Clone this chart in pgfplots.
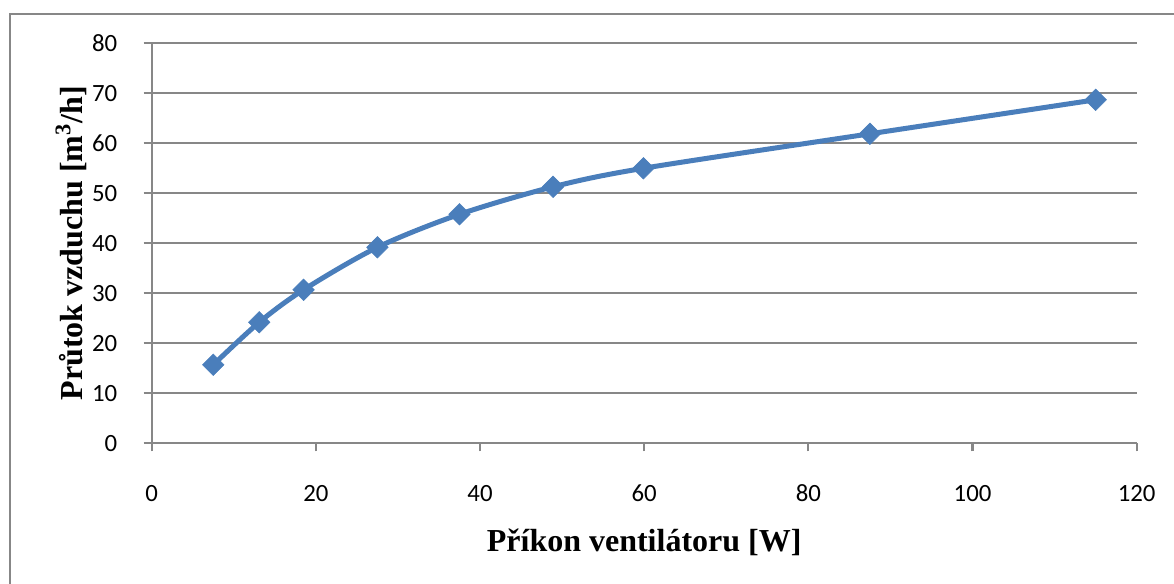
\documentclass[border=0pt]{standalone}
\usepackage{fontspec}
\setmainfont{Liberation Serif}
\newfontfamily\carlito{Carlito}
\usepackage{pgfplots}
\pgfplotsset{compat=1.18}
\definecolor{serblue}{HTML}{4A7EBB}
\definecolor{gridgray}{HTML}{878787}
\begin{document}
\begin{tikzpicture}
\path[use as bounding box] (-75.85pt,-70.35pt) rectangle (511.15pt,221.65pt);
\draw[gridgray, line width=1.1pt] (-70.85pt,-75pt) -- (-70.85pt,214.65pt) -- (515pt,214.65pt);
\begin{axis}[
  at={(0pt,0pt)}, anchor=south west,
  scale only axis,
  width=492.5pt, height=200pt,
  xmin=0, xmax=120, ymin=0, ymax=80,
  xtick={0,20,...,120},
  ytick={0,10,...,80},
  axis x line=bottom, axis y line=left,
  axis line style={gridgray, line width=1.1pt, -},
  tick style={gridgray, line width=1.1pt},
  tick align=outside,
  major tick length=4pt,
  ymajorgrids,
  grid style={gridgray, line width=0.9pt},
  /pgf/number format/assume math mode=true,
  ticklabel style={font=\carlito\fontsize{12.4}{14}\selectfont, text=black},
  xticklabel shift=0pt,
  yticklabel shift=0pt,
  xticklabel style={anchor=base, inner sep=0pt, yshift=-25.3pt},
  yticklabel style={anchor=east, inner sep=0pt, xshift=-13pt},
  xlabel={\bfseries Příkon ventilátoru [W]},
  ylabel={\bfseries Průtok vzduchu [m\textsuperscript{3}/h]},
  label style={font=\fontsize{16}{19}\selectfont},
  xlabel style={at={(axis description cs:0.5,-0.2695)}, anchor=base, inner sep=0pt},
  ylabel style={at={(axis description cs:-0.0698,0.5)}, anchor=base, inner sep=0pt},
  clip=false,
]
\addplot[serblue, line width=2.5pt, smooth, tension=0.5,
  mark=square*, mark size=3.8pt, mark options={rotate=45, fill=serblue, draw=serblue, line width=0.3pt}]
  coordinates {(7.5,15.7) (13.1,24.2) (18.5,30.7) (27.5,39.2) (37.5,45.8) (48.9,51.3) (59.9,55.0) (87.5,61.9) (115.0,68.7)};
\end{axis}
\end{tikzpicture}
\end{document}
